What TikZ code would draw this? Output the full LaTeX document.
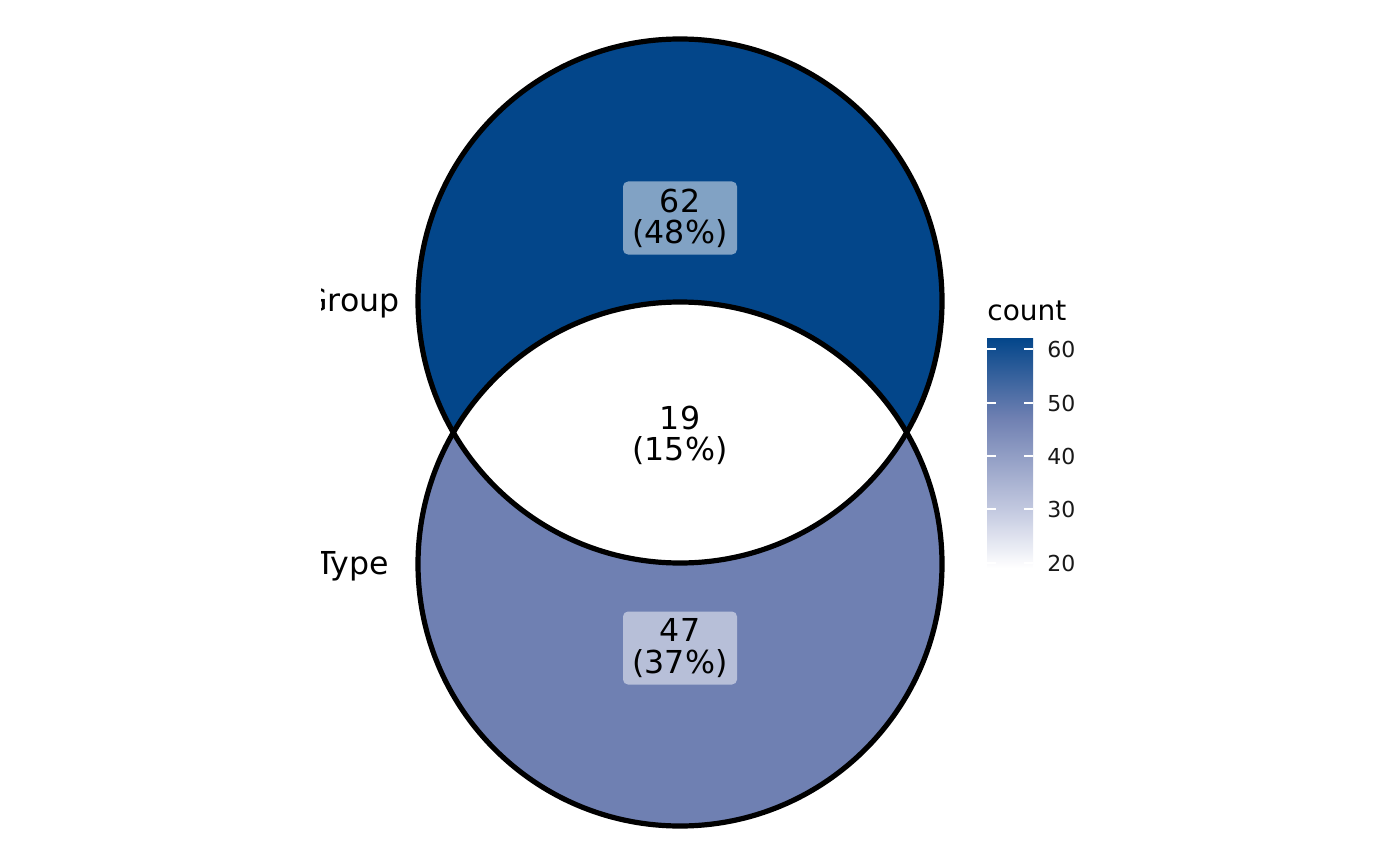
\documentclass[tikz,border=0pt]{standalone}
\usepackage{fontspec}
\setmainfont{DejaVu Sans}
\definecolor{setA}{HTML}{03468A}
\definecolor{setB}{HTML}{6F80B2}
\definecolor{barLow}{HTML}{FFFFFF}
\definecolor{barMid}{HTML}{C3C9E0}
\pgfdeclareverticalshading{countbar}{100bp}{color(0bp)=(barLow); color(25bp)=(barLow); color(37.6bp)=(barMid); color(57.6bp)=(setB); color(75bp)=(setA); color(100bp)=(setA)}
\tikzset{
  setring/.style={circle, draw=black, line width=2.6pt, minimum size=262pt, inner sep=0pt},
  countbox/.style={rounded corners=2.5pt, fill=white, fill opacity=0.5, text opacity=1, minimum width=57pt, minimum height=36.5pt, inner sep=0pt, align=center, font=\fontsize{15.8}{15.6}\selectfont},
  countlabel/.style={inner sep=0pt, align=center, font=\fontsize{15.8}{15.6}\selectfont},
  setname/.style={anchor=east, inner sep=0pt, font=\fontsize{15.8}{16}\selectfont},
  ticklabel/.style={anchor=west, inner sep=0pt, text=black!90, font=\fontsize{11}{12}\selectfont},
  tickmark/.style={white, line width=0.6pt}
}
\begin{document}
\begin{tikzpicture}[x=0.5pt,y=-0.5pt]
\useasboundingbox (0,0) rectangle (1400,866);
% fills
\fill[setA] (680,301) circle[radius=131pt];
\fill[setB] (680,564) circle[radius=131pt];
\begin{scope}
  \clip (680,301) circle[radius=131pt];
  \fill[white] (680,564) circle[radius=131pt];
\end{scope}
% outlines
\node[setring] (A) at (680,301) {};
\node[setring] (B) at (680,564) {};
% counts
\node[countbox] (nA) at (680,218) {62\\(48\%)};
\node[countlabel] (nAB) at (680,435) {19\\(15\%)};
\node[countbox] (nB) at (680,648) {47\\(37\%)};
% set names (clipped at left)
\begin{scope}
  \clip (321,0) rectangle (1400,866);
  \node[setname] (lA) at (400,303) {Group};
  \node[setname] (lB) at (389,566) {Type};
\end{scope}
% legend
\node[anchor=west, inner sep=0pt, font=\fontsize{14}{15}\selectfont] (lt) at (987,311) {count};
\shade[shading=countbar] (987,338) rectangle (1033,568);
\foreach \v/\y in {60/349,50/403,40/456,30/509,20/563}{
  \draw[tickmark] (987,\y) -- (996,\y);
  \draw[tickmark] (1024,\y) -- (1033,\y);
  \node[ticklabel] (t\v) at (1047,\y) {\v};
}
\end{tikzpicture}
\end{document}
